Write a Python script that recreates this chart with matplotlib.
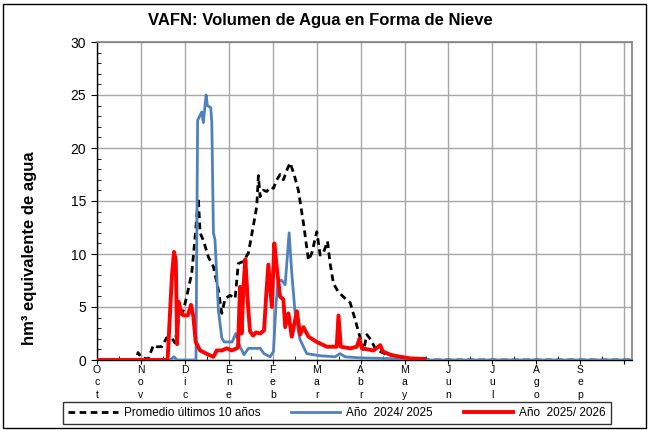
import matplotlib
matplotlib.use("Agg")
import matplotlib.pyplot as plt
from matplotlib.patches import Rectangle
from matplotlib.ticker import MultipleLocator, FixedLocator

plt.rcParams['font.family'] = ['Liberation Sans', 'DejaVu Sans']

months = ["Oct", "Nov", "Dic", "Ene", "Feb", "Mar", "Abr", "May", "Jun", "Jul", "Ago", "Sep"]

# days since 1 Oct (each month division = 30 days on the chart)
avg_day = [0, 27, 28, 30.7, 35, 38.5, 40.8, 44.2, 47.6, 51.0, 53.3, 55.6, 59.0, 61.3, 64.7, 67.0, 69.2,
           70.4, 72.6, 76.1, 79.5, 82.9, 85.2, 87.5, 90.9, 94.3, 96.5, 100.0, 103.4, 106.8, 109.1,
           110.2, 111.4, 113.6, 116.0, 118.2, 120.5, 122.8, 125.0, 127.3, 129.6, 131.9, 134.6,
           137.5, 141.0, 144.4, 146.7, 150.1, 152.4, 154.6, 157.4, 159.2, 161.5, 164.9, 169.5,
           172.9, 176.3, 179.7, 182.0, 184.3, 187.0, 190.0, 193.4, 198.0, 207.0, 218.5, 227.5, 365]
avg_val = [0, 0, 0.7, 0.2, 0.1, 1.4, 1.25, 1.25, 2.1, 2.1, 1.6, 3.8, 4.7, 6.0, 8.2, 11.6, 15.3,
           12.0, 11.3, 9.7, 8.8, 6.6, 4.4, 5.8, 6.1, 5.8, 9.1, 9.3, 10.1, 12.7, 14.5,
           17.4, 15.4, 16.0, 15.9, 16.3, 16.2, 17.0, 17.5, 17.0, 17.9, 18.6, 17.5,
           16.0, 12.9, 9.4, 10.1, 12.1, 9.9, 10.1, 11.2, 9.1, 7.2, 6.4, 5.8,
           5.4, 3.8, 2.1, 0.9, 2.4, 1.9, 1.1, 0.8, 0.5, 0.3, 0.1, 0, 0]

y2425_day = [0, 49.9, 52.6, 54.7, 67.6, 68.7, 71.5, 72.6, 74.5, 75.4, 77.7, 78.4, 79.5, 80.6, 82.9,
             85.2, 86.8, 92.2, 94.8, 97.7, 100.4, 103.4, 111.4, 114.1, 118.2, 120.5, 122.3, 123.7,
             126.2, 128.5, 131.2, 133.0, 135.3, 138.7, 143.3, 152.4, 162.6, 166.0, 169.5, 179.7,
             207.0, 220.7, 365]
y2425_val = [0, 0, 0.3, 0, 0, 22.6, 23.4, 22.4, 25.0, 24.0, 23.8, 22.4, 12.0, 11.3, 4.7,
             2.1, 1.7, 1.7, 2.5, 1.25, 0.5, 1.1, 1.1, 0.6, 0.3, 0.8, 5.4, 7.5,
             7.5, 7.1, 12.0, 8.2, 4.4, 1.9, 0.6, 0.4, 0.3, 0.6, 0.3, 0.2,
             0.1, 0, 0]

y2526_day = [0, 48.2, 51.2, 52.6, 53.8, 54.7, 55.6, 57.4, 59.0, 62.0, 64.2, 65.8, 67.4, 70.4, 76.1,
             79.5, 81.8, 85.2, 88.6, 92.0, 95.5, 96.3, 97.7, 98.7, 100.1, 101.3, 103.2, 104.5,
             106.6, 108.6, 111.4, 114.1, 115.5, 117.0, 119.4, 121.1, 122.7, 125.0, 127.3, 128.5,
             130.7, 133.0, 136.5, 138.7, 141.0, 144.4, 150.1, 156.9, 163.7, 164.9, 166.5, 172.9,
             177.4, 179.2, 180.8, 188.8, 193.4, 195.2, 200.2, 207.0, 213.9, 223.4]
y2526_val = [0, 0, 8.0, 10.2, 9.4, 1.5, 5.5, 4.6, 4.2, 4.2, 5.2, 4.1, 1.7, 0.9, 0.5,
             0.3, 0.9, 0.9, 1.1, 0.9, 1.1, 1.2, 6.9, 2.5, 7.0, 9.5, 5.0, 2.7,
             2.3, 2.6, 2.5, 2.8, 6.0, 9.0, 5.0, 11.0, 8.8, 6.0, 5.7, 3.1,
             4.4, 2.2, 4.6, 2.4, 3.1, 2.2, 1.7, 1.25, 1.25, 4.2, 1.25, 1.1,
             1.25, 2.0, 1.1, 0.9, 1.4, 0.8, 0.5, 0.3, 0.15, 0.1]

fig = plt.figure(figsize=(6.49, 4.30), dpi=100)
ax = fig.add_axes([97/649, 70/430, (631.5-97)/649, (360-42)/430])

ax.plot(avg_day, avg_val, color='black', lw=2.0, ls=(0, (2.4, 1.6)),
        label='Promedio últimos 10 años', zorder=3)
ax.plot(y2425_day, y2425_val, color='#4f81bd', lw=2.0, label='Año  2024/ 2025', zorder=4)
ax.plot(y2526_day, y2526_val, color='#ff0000', lw=2.8, label='Año  2025/ 2026', zorder=5)

ax.set_xlim(0, 365)
ax.set_ylim(0, 30)
ax.yaxis.set_major_locator(MultipleLocator(5))
ax.yaxis.set_minor_locator(MultipleLocator(1))
ax.set_xticks([30*i for i in range(13)])
ax.set_xticklabels(["\n".join(m) for m in months] + [""])
ax.xaxis.set_minor_locator(FixedLocator([15 + 30*i for i in range(12)]))
ax.grid(True, which='major', color='#a6a6a6', lw=1.0, zorder=0)
ax.set_axisbelow(True)
ax.tick_params(axis='x', which='major', direction='out', length=3, labelsize=7.5, pad=0.5)
ax.tick_params(axis='x', which='minor', direction='in', length=3)
ax.tick_params(axis='y', which='major', direction='out', length=4, labelsize=10, pad=4)
ax.tick_params(axis='y', which='minor', direction='in', length=3)
for lbl in ax.get_xticklabels():
    lbl.set_linespacing(1.32)
for s in ['top', 'right']:
    ax.spines[s].set_color('#808080')
    ax.spines[s].set_linewidth(1.2)
for s in ['left', 'bottom']:
    ax.spines[s].set_color('black')
    ax.spines[s].set_linewidth(1.0)

ax.set_ylabel('hm³ equivalente de agua', fontsize=12, fontweight='bold')
ax.yaxis.set_label_coords(-0.112, 0.352)
fig.text(320/649, 1 - 20/430, 'VAFN: Volumen de Agua en Forma de Nieve', ha='center', va='center',
         fontsize=12, fontweight='bold')

leg = fig.legend(loc='center', bbox_to_anchor=(337/649, 1 - 413/430), ncol=3, fontsize=8.5,
                 frameon=True, fancybox=False, edgecolor='black', handlelength=4.2,
                 columnspacing=2.6, handletextpad=0.5, borderpad=0.4, borderaxespad=0)
leg.get_frame().set_linewidth(1.0)

fig.patches.append(Rectangle((3/649, 2/430), 643/649, 424/430, transform=fig.transFigure,
                             fill=False, edgecolor='black', lw=1.0))

fig.savefig('out.png', dpi=100)
